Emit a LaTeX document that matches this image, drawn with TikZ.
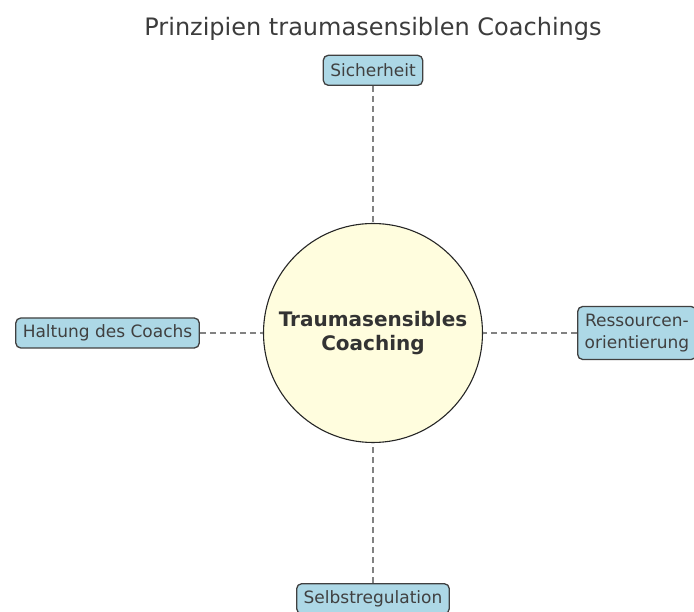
\documentclass[tikz,border=0pt]{standalone}
\usepackage{fontspec}
\setmainfont{DejaVu Sans}
\usetikzlibrary{positioning}
\definecolor{boxblue}{RGB}{173,216,230}
\definecolor{coreyellow}{RGB}{255,253,222}
\definecolor{linegrey}{RGB}{130,130,130}
\definecolor{titlegrey}{RGB}{60,60,60}
\tikzset{
	core/.style={draw=black!85, line width=1.1pt, circle, fill=coreyellow, minimum size=219pt, inner sep=0pt, align=center, font=\fontsize{20}{24}\selectfont\bfseries, text=black!80},
	pillar/.style={draw=black!75, line width=1.3pt, rounded corners=5pt, fill=boxblue, align=center, inner xsep=7pt, inner ysep=3pt, minimum height=30pt, font=\fontsize{17}{22}\selectfont, text=black!75},
	link/.style={draw=linegrey, line width=1.4pt, dash pattern=on 6pt off 4pt},
	heading/.style={font=\fontsize{24}{28}\selectfont, text=titlegrey}
}
\begin{document}
\begin{tikzpicture}
	\useasboundingbox (-373pt,-279pt) rectangle (321pt,333pt);
	\node[core] (core) at (0,0) {Traumasensibles\\Coaching};
	\node[pillar, above=137pt of core] (safety) {Sicherheit};
	\node[pillar, below=140pt of core] (selfreg) {Selbstregulation};
	\node[pillar, left=63pt of core] (stance) {Haltung des Coachs};
	\node[pillar, right=94pt of core, minimum height=53pt] (resources) {Ressourcen-\\orientierung};
	\node[heading] (title) at (0,304pt) {Prinzipien traumasensiblen Coachings};
	\draw[link] (safety.south) -- (core.north);
	\draw[link] (selfreg.north) -- (core.south);
	\draw[link] (stance.east) -- (core.west);
	\draw[link] (resources.west) -- (core.east);
\end{tikzpicture}
\end{document}
